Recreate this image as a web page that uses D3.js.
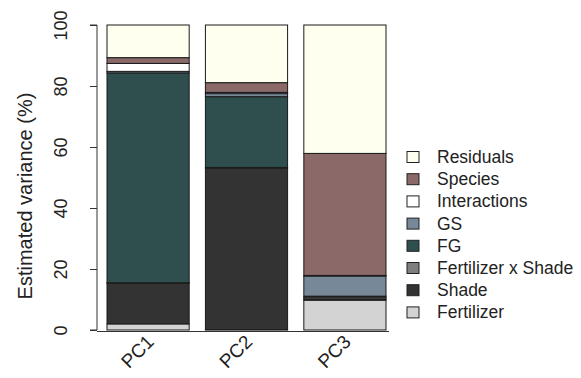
<!DOCTYPE html>
<html>
<head>
<meta charset="utf-8">
<script src="https://cdn.jsdelivr.net/npm/d3@7"></script>
<style>
  html, body { margin: 0; padding: 0; background: #fff; }
  svg { display: block; font-family: "Liberation Sans", Arial, sans-serif; }
</style>
</head>
<body>
<svg id="chart" width="581" height="378"></svg>
<script>
// Principal components on the x axis
const categories = ["PC1", "PC2", "PC3"];

// Variance components, stacked bottom to top (percent of each PC)
const components = ["Fertilizer", "Shade", "Fertilizer x Shade", "FG", "GS", "Interactions", "Species", "Residuals"];
const fertilizer   = [2.0, 0.1, 9.8];
const shade        = [13.3, 52.9, 0.4];
const fertShade    = [0.2, 0.3, 0.6];
const fg           = [68.8, 23.2, 0.3];
const gs           = [0.5, 1.0, 6.6];
const interactions = [2.6, 0.4, 0.2];
const species      = [1.9, 3.2, 40.0];
const residuals    = [10.7, 18.9, 42.1];

const yTicks = [0, 20, 40, 60, 80, 100];

const colors = {
  "Fertilizer": "#d3d3d3",
  "Shade": "#333333",
  "Fertilizer x Shade": "#7f7f7f",
  "FG": "#2f4f4f",
  "GS": "#778899",
  "Interactions": "#ffffff",
  "Species": "#8b6969",
  "Residuals": "#fffff0"
};

const seriesValues = {
  "Fertilizer": fertilizer,
  "Shade": shade,
  "Fertilizer x Shade": fertShade,
  "FG": fg,
  "GS": gs,
  "Interactions": interactions,
  "Species": species,
  "Residuals": residuals
};

const rows = categories.map((c, i) => {
  const r = { pc: c };
  components.forEach(k => { r[k] = seriesValues[k][i]; });
  return r;
});

const svg = d3.select("#chart");

const x = d3.scaleBand().domain(categories).range([107, 386]).paddingInner(0.165).paddingOuter(0);
const y = d3.scaleLinear().domain([0, 100]).range([330, 25]);

const stacked = d3.stack().keys(components)(rows);

// Stacked bars
svg.append("g").selectAll("g")
  .data(stacked)
  .join("g")
  .attr("fill", d => colors[d.key])
  .selectAll("rect")
  .data(d => d)
  .join("rect")
  .attr("x", d => x(d.data.pc))
  .attr("width", x.bandwidth())
  .attr("y", d => y(d[1]))
  .attr("height", d => y(d[0]) - y(d[1]))
  .attr("stroke", "#1a1a1a")
  .attr("stroke-width", 1);

// Y axis
const yAxis = svg.append("g")
  .attr("transform", "translate(97,0)")
  .call(d3.axisLeft(y).tickValues(yTicks).tickSize(7).tickPadding(0).tickFormat(d3.format("d")));
yAxis.select(".domain").attr("stroke", "#333").attr("d", `M-7,${y(0)}H0V${y(100)}H-7`);
yAxis.selectAll(".tick line").attr("stroke", "#333");
yAxis.selectAll(".tick text")
  .attr("x", 0).attr("dy", 0)
  .attr("transform", "translate(-30,0) rotate(-90)")
  .attr("text-anchor", "middle")
  .attr("font-size", 18)
  .attr("font-family", "Liberation Sans, Arial, sans-serif")
  .attr("fill", "#222");

// Baseline under the bars
svg.append("line")
  .attr("x1", 97).attr("x2", 389)
  .attr("y1", y(0) + 1.5).attr("y2", y(0) + 1.5)
  .attr("stroke", "#333").attr("stroke-width", 1);

// Y axis title
svg.append("text")
  .attr("transform", `translate(32,196) rotate(-90)`)
  .attr("text-anchor", "middle")
  .attr("font-size", 20)
  .attr("fill", "#222")
  .text("Estimated variance (%)");

// Category labels, slanted
svg.append("g").selectAll("text")
  .data(categories)
  .join("text")
  .attr("transform", d => `translate(${x(d) + x.bandwidth() / 2 + 7},${343}) rotate(-45)`)
  .attr("text-anchor", "end")
  .attr("font-size", 19)
  .attr("fill", "#222")
  .text(d => d);

// Legend
const legendKeys = components.slice().reverse();
const legend = svg.append("g").selectAll("g")
  .data(legendKeys)
  .join("g")
  .attr("transform", (d, i) => `translate(407,${157 + i * 22.2})`);
legend.append("rect")
  .attr("x", 0).attr("y", -5.5)
  .attr("width", 12).attr("height", 11)
  .attr("fill", d => colors[d])
  .attr("stroke", "#222").attr("stroke-width", 1);
legend.append("text")
  .attr("x", 30).attr("y", 6)
  .attr("font-size", 17.5)
  .attr("fill", "#222")
  .text(d => d);
</script>
</body>
</html>
